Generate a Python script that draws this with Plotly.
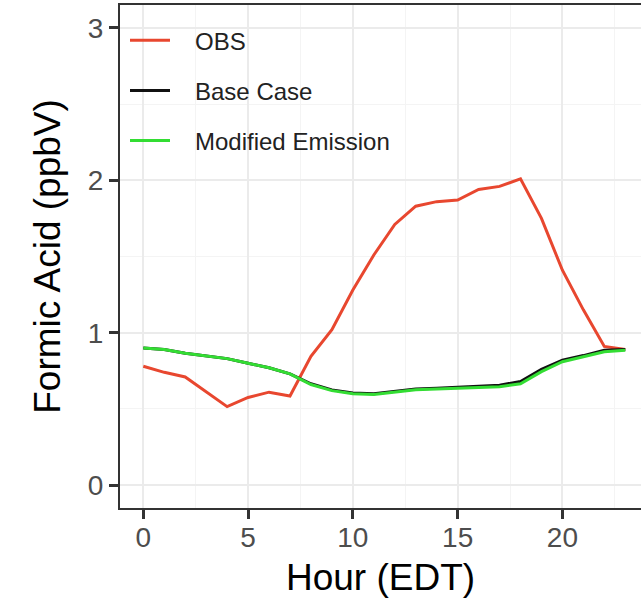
import plotly.graph_objects as go

hours = list(range(24))
obs = [0.78, 0.74, 0.71, 0.61, 0.515, 0.575, 0.61, 0.585, 0.845, 1.02, 1.28, 1.51,
       1.71, 1.83, 1.86, 1.87, 1.94, 1.96, 2.01, 1.75, 1.41, 1.15, 0.91, 0.89]
base_case = [0.90, 0.89, 0.865, 0.85, 0.83, 0.80, 0.77, 0.73, 0.665, 0.625, 0.605, 0.60,
             0.615, 0.63, 0.635, 0.64, 0.65, 0.655, 0.68, 0.76, 0.82, 0.85, 0.885, 0.89]
modified = [0.90, 0.89, 0.865, 0.85, 0.83, 0.80, 0.77, 0.73, 0.66, 0.62, 0.60, 0.595,
            0.61, 0.625, 0.63, 0.635, 0.64, 0.645, 0.665, 0.745, 0.81, 0.84, 0.875, 0.885]
series_names = ["OBS", "Base Case", "Modified Emission"]
series_colors = ["#E8472F", "#111111", "#33DD33"]
x_ticks = [0, 5, 10, 15, 20]
y_ticks = [0, 1, 2, 3]

FONT = "Liberation Sans, Arial, sans-serif"
PAD = "\u00a0\u00a0\u00a0"

fig = go.Figure()
for name, vals, col in zip(series_names, [obs, base_case, modified], series_colors):
    fig.add_trace(go.Scatter(x=hours, y=vals, mode="lines", name=PAD + name,
                             legendgroup=name,
                             line=dict(color=col, width=3)))

fig.update_layout(
    width=641, height=603,
    margin=dict(l=120, r=0, t=5, b=95, autoexpand=False),
    paper_bgcolor="white", plot_bgcolor="white",
    font=dict(family=FONT, color="#000000"),
    showlegend=True,
    legend=dict(x=0.0096, y=0.974, xanchor="left", yanchor="top",
                bgcolor="rgba(0,0,0,0)", borderwidth=0,
                font=dict(size=24, color="#222222", family=FONT),
                itemwidth=40, tracegroupgap=16, traceorder="grouped"),
    xaxis=dict(range=[-1.112, 23.75], tickvals=x_ticks, automargin=False,
               showgrid=True, gridcolor="#EBEBEB", gridwidth=2,
               minor=dict(dtick=2.5, tick0=0, showgrid=True, gridcolor="#F4F4F4", gridwidth=1),
               zeroline=False,
               showline=True, linecolor="#333333", linewidth=2, mirror=True,
               ticks="outside", ticklen=9, tickwidth=2.5, tickcolor="#333333",
               ticklabelstandoff=-6,
               tickfont=dict(size=28, color="#4D4D4D", family=FONT),
               title=dict(text="Hour (EDT)", font=dict(size=37, color="#000000", family=FONT),
                          standoff=13)),
    yaxis=dict(range=[-0.15, 3.15], tickvals=y_ticks, automargin=False,
               showgrid=True, gridcolor="#EBEBEB", gridwidth=2,
               minor=dict(dtick=0.5, tick0=0, showgrid=True, gridcolor="#F4F4F4", gridwidth=1),
               zeroline=False,
               showline=True, linecolor="#333333", linewidth=2, mirror=False,
               ticks="outside", ticklen=9, tickwidth=2.5, tickcolor="#333333",
               tickfont=dict(size=28, color="#4D4D4D", family=FONT),
               title=dict(text="Formic Acid (ppbV)", font=dict(size=37, color="#000000", family=FONT),
                          standoff=16)),
)

fig.write_html("out.html", config={"displayModeBar": False},
               post_script="document.body.style.margin='0';")
